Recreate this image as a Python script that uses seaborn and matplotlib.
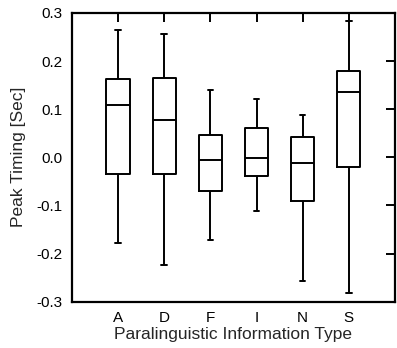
import numpy as np
import pandas as pd
import matplotlib
matplotlib.use("Agg")
import matplotlib.pyplot as plt
import seaborn as sns

# five-number summary per type: lower whisker, Q1, median, Q3, upper whisker
categories = ["A", "D", "F", "I", "N", "S"]
whisker_low = [-0.178, -0.223, -0.171, -0.112, -0.256, -0.282]
q1 = [-0.035, -0.035, -0.070, -0.039, -0.090, -0.021]
median = [0.108, 0.078, -0.006, -0.002, -0.0125, 0.136]
q3 = [0.1625, 0.165, 0.046, 0.060, 0.043, 0.180]
whisker_high = [0.265, 0.256, 0.140, 0.122, 0.0875, 0.284]
ytick_vals = [-0.3, -0.2, -0.1, 0.0, 0.1, 0.2, 0.3]

rows = []
for i, c in enumerate(categories):
    for v in [whisker_low[i], q1[i], median[i], q3[i], whisker_high[i]]:
        rows.append({"type": c, "timing": v})
df = pd.DataFrame(rows)

sns.set_style("white")
plt.rcParams["font.family"] = ["Liberation Sans", "DejaVu Sans"]

fig = plt.figure(figsize=(3.97, 3.48), dpi=100)
ax = fig.add_axes([0.181, 0.133, 0.814, 0.830])

sns.boxplot(data=df, x="type", y="timing", order=categories, whis=(0, 100),
            width=0.5, fill=False, color="black", linewidth=1.4,
            ax=ax, capwidths=0.12)

ax.set_xlim(-1, 6)
ax.set_ylim(-0.3, 0.3)
ax.set_yticks(ytick_vals)
ax.set_yticklabels([f"{v:.1f}" for v in ytick_vals])
ax.set_xlabel("Paralinguistic Information Type", fontsize=12.5, labelpad=1)
ax.set_ylabel("Peak Timing [Sec]", fontsize=12.5, labelpad=7)
ax.tick_params(direction="in", length=6.5, width=1.4, labelsize=11,
               top=True, right=True, labelcolor="black", color="black")
ax.tick_params(axis="x", pad=7)
ax.tick_params(axis="y", pad=7)
for s in ax.spines.values():
    s.set_visible(True)
    s.set_color("black")
    s.set_linewidth(1.6)

fig.savefig("out.png", dpi=100)
